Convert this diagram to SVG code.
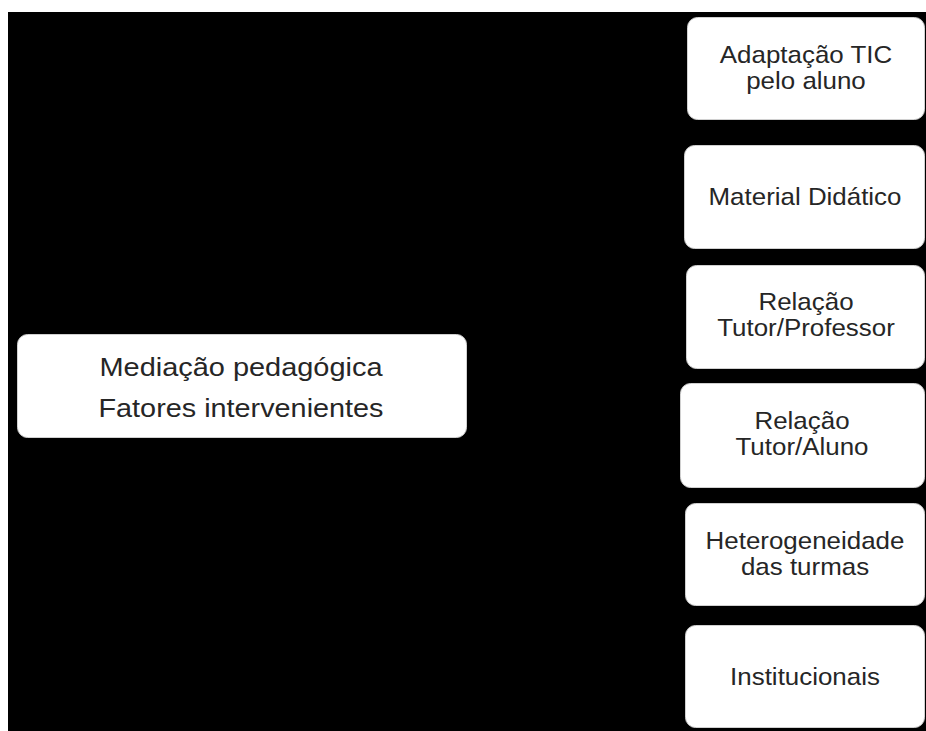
<svg xmlns="http://www.w3.org/2000/svg" width="926" height="731" viewBox="0 0 926 731">
<style>
.box{fill:#ffffff;stroke:#d0d0d0;stroke-width:1}
.t{font-family:"Liberation Sans",Arial,sans-serif;fill:#262626;text-anchor:middle}
.r{font-size:24px}
.l{font-size:25px}
</style>
<rect x="0" y="0" width="926" height="731" fill="#ffffff"/>
<rect x="8" y="12" width="918" height="719" fill="#000000"/>
<g id="connectors"></g>
<g id="center">
<rect class="box" x="17.5" y="334.5" width="449" height="103" rx="10"/>
<text class="t l" x="241" y="376" textLength="283" lengthAdjust="spacingAndGlyphs">Mediação pedagógica</text>
<text class="t l" x="241" y="417" textLength="285" lengthAdjust="spacingAndGlyphs">Fatores intervenientes</text>
</g>
<g id="n1">
<rect class="box" x="687.5" y="17.5" width="237" height="102" rx="10"/>
<g transform="translate(806 0) scale(1.08 1)">
<text class="t r" x="0" y="63">Adaptação TIC</text>
<text class="t r" x="0" y="89">pelo aluno</text>
</g>
</g>
<g id="n2">
<rect class="box" x="684.5" y="145.5" width="240" height="103" rx="10"/>
<g transform="translate(805 0) scale(1.08 1)">
<text class="t r" x="0" y="205">Material Didático</text>
</g>
</g>
<g id="n3">
<rect class="box" x="686.5" y="265.5" width="238" height="103" rx="10"/>
<g transform="translate(806 0) scale(1.08 1)">
<text class="t r" x="0" y="310">Relação</text>
<text class="t r" x="0" y="336">Tutor/Professor</text>
</g>
</g>
<g id="n4">
<rect class="box" x="680.5" y="383.5" width="244" height="104" rx="10"/>
<g transform="translate(802 0) scale(1.08 1)">
<text class="t r" x="0" y="429">Relação</text>
<text class="t r" x="0" y="455">Tutor/Aluno</text>
</g>
</g>
<g id="n5">
<rect class="box" x="685.5" y="503.5" width="239" height="102" rx="10"/>
<g transform="translate(805 0) scale(1.08 1)">
<text class="t r" x="0" y="549">Heterogeneidade</text>
<text class="t r" x="0" y="575">das turmas</text>
</g>
</g>
<g id="n6">
<rect class="box" x="685.5" y="625.5" width="239" height="102" rx="10"/>
<g transform="translate(805 0) scale(1.08 1)">
<text class="t r" x="0" y="685">Institucionais</text>
</g>
</g>
</svg>
